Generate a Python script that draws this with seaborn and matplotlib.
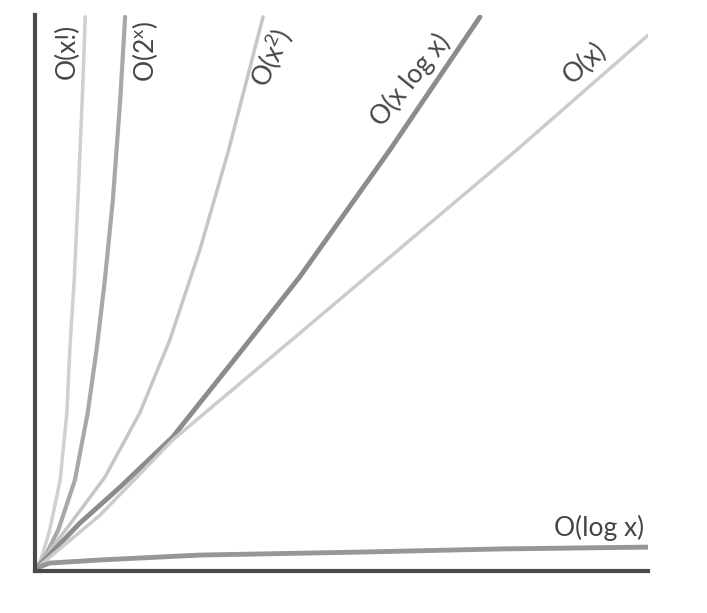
import matplotlib
matplotlib.use("Agg")
import matplotlib.pyplot as plt
import seaborn as sns
import pandas as pd

# points (x, y in axis units: x 0..10, y 0..9.07)
fact_x = [0.03, 0.11, 0.24, 0.41, 0.52, 0.57, 0.64, 0.70, 0.77, 0.82]
fact_y = [0.05, 0.23, 0.67, 1.48, 2.58, 3.65, 4.75, 6.05, 7.68, 9.04]

exp_x = [0.03, 0.16, 0.38, 0.65, 0.86, 1.01, 1.14, 1.27, 1.39, 1.47]
exp_y = [0.05, 0.23, 0.67, 1.48, 2.58, 3.65, 4.75, 6.05, 7.68, 9.04]

sq_x = [0.03, 0.62, 1.14, 1.71, 2.20, 2.69, 3.16, 3.72]
sq_y = [0.05, 0.83, 1.53, 2.58, 3.77, 5.24, 6.87, 9.04]

nlog_x = [0.03, 0.73, 1.39, 2.25, 3.38, 4.32, 5.79, 7.26]
nlog_y = [0.05, 0.78, 1.37, 2.19, 3.61, 4.80, 6.87, 9.04]

lin_x = [0.03, 1.06, 2.25, 4.32, 7.86, 10.0]
lin_y = [0.05, 0.91, 2.14, 3.88, 6.87, 8.74]

log_x = [0.03, 0.24, 1.06, 2.69, 5.37, 7.59, 10.0]
log_y = [0.05, 0.13, 0.18, 0.26, 0.31, 0.36, 0.39]

labels = ["O(x!)", r"$\mathregular{O(2^x)}$", r"$\mathregular{O(x^2)}$",
          "O(x log x)", "O(x)", "O(log x)"]
label_x = [0.52, 1.79, 3.85, 6.13, 8.97, 9.93]
label_y = [8.47, 8.47, 8.38, 8.01, 8.29, 0.70]
label_rot = [90, 90, 65, 51, 42, 0]

series = [(fact_x, fact_y), (exp_x, exp_y), (sq_x, sq_y),
          (nlog_x, nlog_y), (lin_x, lin_y), (log_x, log_y)]
colors = ["#d0d0d0", "#a8a8a8", "#c6c6c6", "#8c8c8c", "#cccccc", "#979797"]
widths = [2.5, 3.0, 2.5, 3.5, 2.5, 3.5]

sns.set_style("white")
plt.rcParams["font.family"] = ["Lato", "DejaVu Sans"]
plt.rcParams["mathtext.fontset"] = "custom"
plt.rcParams["mathtext.rm"] = "Lato"

fig = plt.figure(figsize=(7.07, 6.13), dpi=100)
ax = fig.add_axes([0.0495, 0.0685, 0.867, 0.907])

for (xs, ys), c, w in zip(series, colors, widths):
    df = pd.DataFrame({"x": xs, "y": ys})
    sns.lineplot(data=df, x="x", y="y", sort=False, color=c, lw=w, ax=ax)

for txt, x, y, r in zip(labels, label_x, label_y, label_rot):
    ha = "right" if r == 0 else "center"
    ax.text(x, y, txt, rotation=r, rotation_mode="anchor" if r == 0 else "default",
            ha=ha, va="center", fontsize=19, color="#454545")

ax.set_xlim(0, 10)
ax.set_ylim(0, 9.07)
ax.set_xticks([])
ax.set_yticks([])
ax.set_xlabel("")
ax.set_ylabel("")
for side in ["top", "right"]:
    ax.spines[side].set_visible(False)
for side in ["left", "bottom"]:
    ax.spines[side].set_color("#4a4a4a")
    ax.spines[side].set_linewidth(3)

fig.savefig("out.png", dpi=100, facecolor="white")
